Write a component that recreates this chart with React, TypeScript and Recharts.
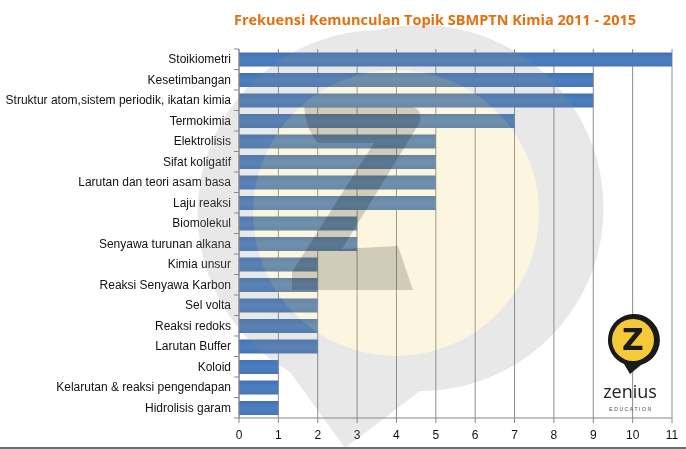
import React from "react";
import { BarChart, Bar, XAxis, YAxis, CartesianGrid } from "recharts";

const topics = [
  "Stoikiometri",
  "Kesetimbangan",
  "Struktur atom,sistem periodik, ikatan kimia",
  "Termokimia",
  "Elektrolisis",
  "Sifat koligatif",
  "Larutan dan teori asam basa",
  "Laju reaksi",
  "Biomolekul",
  "Senyawa turunan alkana",
  "Kimia unsur",
  "Reaksi Senyawa Karbon",
  "Sel volta",
  "Reaksi redoks",
  "Larutan Buffer",
  "Koloid",
  "Kelarutan & reaksi pengendapan",
  "Hidrolisis garam",
];
const frequency = [11, 9, 9, 7, 5, 5, 5, 5, 3, 3, 2, 2, 2, 2, 2, 1, 1, 1];
const xTicks = [0, 1, 2, 3, 4, 5, 6, 7, 8, 9, 10, 11];

const W = 686;
const H = 449;
const MARGIN = { top: 49, right: 14, bottom: 0, left: 0 };
const X_AXIS_H = 31;
const Y_AXIS_W = 239;
const FONT = "'Liberation Sans', Arial, sans-serif";

const data = topics.map((name, i) => ({ name, value: frequency[i] }));
const band = (H - MARGIN.top - X_AXIS_H) / topics.length;

function TopicTick(props: any) {
  const { x, y, payload, index } = props;
  const last = index === topics.length - 1;
  return (
    <g>
      <line x1={x + 3} x2={x + 8} y1={y - band / 2} y2={y - band / 2} stroke="#888" />
      {last && <line x1={x + 3} x2={x + 8} y1={y + band / 2} y2={y + band / 2} stroke="#888" />}
      <text x={x} y={y} dy="0.35em" textAnchor="end" fontFamily={FONT} fontSize={12} fill="#111">
        {payload.value}
      </text>
    </g>
  );
}

// faint pin-shaped logo that sits over the whole plot
function Watermark() {
  return (
    <svg
      width={W}
      height={H}
      style={{ position: "absolute", left: 0, top: 0, pointerEvents: "none" }}
    >
      <g opacity={0.2}>
        <path
          d="M 378 30 A 183 183 0 1 1 420 391 L 345 448 L 290 372 A 183 183 0 0 1 378 30 Z"
          fill="#8f8f8f"
        />
        <circle cx={396} cy={213} r={143} fill="#f5d46a" />
      </g>
      <path
        d="M 304 107 L 412 107 Q 422 108 420 122 L 342 249 L 398 246 L 413 290 L 292 290 L 292 272 L 374 143 L 318 143 Q 306 130 304 107 Z"
        fill="#d4d4d4"
        style={{ mixBlendMode: "multiply" }}
      />
    </svg>
  );
}

function Logo() {
  return (
    <svg
      width={W}
      height={H}
      style={{ position: "absolute", left: 0, top: 0, pointerEvents: "none" }}
    >
      <path
        d="M 633 314 A 26 26 0 0 1 641 365 L 630 374 L 624 364 A 26 26 0 0 1 633 314 Z"
        fill="#1a1a1a"
      />
      <circle cx={633} cy={340} r={21} fill="#f6c93b" />
      <text
        x={633}
        y={350}
        textAnchor="middle"
        fontFamily="'DejaVu Sans', sans-serif"
        fontWeight={700}
        fontSize={30}
        fill="#1a1a1a"
      >
        Z
      </text>
      <text x={630} y={398} textAnchor="middle" fontFamily="'Open Sans', sans-serif" fontSize={18} fill="#222">
        zenius
      </text>
      <text
        x={631}
        y={411}
        textAnchor="middle"
        fontFamily={FONT}
        fontSize={5}
        letterSpacing={1.6}
        fill="#444"
      >
        EDUCATION
      </text>
    </svg>
  );
}

export default function App() {
  return (
    <div
      style={{
        position: "absolute",
        left: 0,
        top: 0,
        width: W,
        height: H,
        background: "#fff",
        overflow: "hidden",
      }}
    >
      <BarChart width={W} height={H} data={data} layout="vertical" margin={MARGIN} barCategoryGap={3.5}>
        <defs>
          <linearGradient id="barFill" x1="0" y1="0" x2="0" y2="1">
            <stop offset="0%" stopColor="#4372b4" />
            <stop offset="50%" stopColor="#4d80c0" />
            <stop offset="100%" stopColor="#4675b6" />
          </linearGradient>
        </defs>
        <text
          x={435}
          y={21}
          textAnchor="middle"
          dominantBaseline="middle"
          fontFamily="'Open Sans', sans-serif"
          fontWeight={700}
          fontSize={14.5}
          fill="#e4700f"
        >
          Frekuensi Kemunculan Topik SBMPTN Kimia 2011 - 2015
        </text>
        <CartesianGrid horizontal={false} stroke="#8c8c8c" strokeDasharray="" />
        <XAxis
          type="number"
          domain={[0, 11]}
          ticks={xTicks}
          interval={0}
          height={X_AXIS_H}
          stroke="#888"
          tickSize={5}
          tickMargin={7}
          tick={{ fontFamily: FONT, fontSize: 12, fill: "#111" }}
        />
        <YAxis
          type="category"
          dataKey="name"
          width={Y_AXIS_W}
          stroke="#888"
          tickLine={false}
          tickSize={0}
          tickMargin={8}
          interval={0}
          tick={<TopicTick />}
        />
        <Bar dataKey="value" fill="url(#barFill)" isAnimationActive={false} />
      </BarChart>
      <Watermark />
      <Logo />
      <div
        style={{
          position: "absolute",
          left: 0,
          top: H - 2,
          width: W,
          height: 2,
          background: "#6d6d6d",
        }}
      />
    </div>
  );
}
